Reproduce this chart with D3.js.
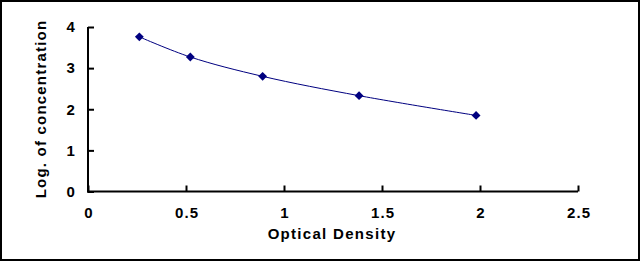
<!DOCTYPE html>
<html>
<head>
<meta charset="utf-8">
<script src="https://cdn.jsdelivr.net/npm/d3@7"></script>
<style>
  body { margin: 0; background: #fff; }
  text { font-family: "Liberation Sans", Arial, sans-serif; font-weight: bold; fill: #000; }
</style>
</head>
<body>
<div id="chart"></div>
<script>
// standard curve points
var odValues = [0.262, 0.522, 0.891, 1.383, 1.980];
var logConc = [3.76, 3.27, 2.80, 2.33, 1.85];
var xTicks = [0, 0.5, 1, 1.5, 2, 2.5];
var yTicks = [0, 1, 2, 3, 4];

var width = 642, height = 262;
var plotLeft = 88, plotRight = 578, plotTop = 27, plotBottom = 191.5;

var svg = d3.select("#chart").append("svg")
    .attr("width", width)
    .attr("height", height);

// outer frame
svg.append("rect")
    .attr("x", 1).attr("y", 1)
    .attr("width", width - 4).attr("height", height - 3)
    .style("fill", "none")
    .style("stroke", "#000")
    .style("stroke-width", 2);

var x = d3.scaleLinear().domain([0, 2.5]).range([plotLeft, plotRight]);
var y = d3.scaleLinear().domain([0, 4]).range([plotBottom, plotTop]);

// axes, ticks pointing inward
var xAxis = svg.append("g")
    .attr("transform", "translate(0," + plotBottom + ")")
    .call(d3.axisBottom(x).tickValues(xTicks).tickSizeInner(-6).tickSizeOuter(0).tickPadding(16)
      .tickFormat(function(d) { return d; }));

var yAxis = svg.append("g")
    .attr("transform", "translate(" + plotLeft + ",0)")
    .call(d3.axisLeft(y).tickValues(yTicks).tickSizeInner(-6).tickSizeOuter(0).tickPadding(12)
      .tickFormat(function(d) { return d; }));

[xAxis, yAxis].forEach(function(a) {
  a.select(".domain").style("stroke", "#000").style("stroke-width", 2);
  a.selectAll(".tick line").style("stroke", "#000").style("stroke-width", 2);
  a.selectAll(".tick text")
      .style("font-size", "15px")
      .style("letter-spacing", "1.2px")
      .style("font-family", null);
});
xAxis.selectAll(".tick text").attr("dx", "0.6px");

// let the two axis lines meet at the corner
xAxis.select(".domain").attr("d", "M" + (plotLeft - 1) + ",0H" + plotRight);
yAxis.select(".domain").attr("d", "M0," + (plotBottom + 1) + "V" + plotTop);

// curve
var pts = odValues.map(function(v, i) { return [v, logConc[i]]; });

svg.append("path")
    .datum(pts)
    .attr("d", d3.line()
      .x(function(d) { return x(d[0]); })
      .y(function(d) { return y(d[1]); })
      .curve(d3.curveCatmullRom))
    .style("fill", "none")
    .style("stroke", "#000080")
    .style("stroke-width", 1);

svg.selectAll(".pt")
    .data(pts)
    .enter().append("path")
    .attr("class", "pt")
    .attr("transform", function(d) { return "translate(" + x(d[0]) + "," + y(d[1]) + ")"; })
    .attr("d", d3.symbol().type(d3.symbolDiamond2).size(50))
    .style("fill", "#000080");

// axis titles
svg.append("text")
    .attr("x", 332)
    .attr("y", 239)
    .attr("text-anchor", "middle")
    .style("font-size", "15px")
    .style("letter-spacing", "1.3px")
    .text("Optical Density");

svg.append("text")
    .attr("transform", "translate(46,109) rotate(-90)")
    .attr("text-anchor", "middle")
    .style("font-size", "15px")
    .style("letter-spacing", "1.2px")
    .text("Log. of concentration");
</script>
</body>
</html>
